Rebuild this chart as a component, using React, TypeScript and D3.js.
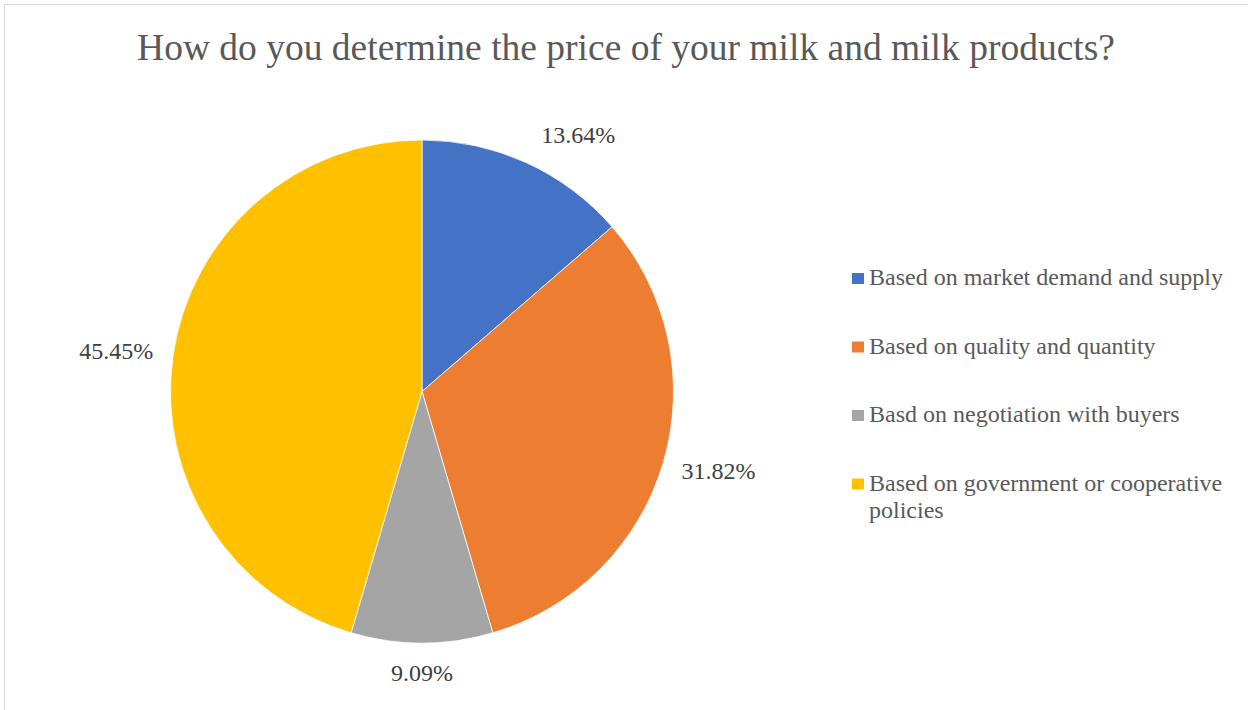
import React from "react";
import * as d3 from "d3";

const categories = [
  "Based on market demand and supply",
  "Based on quality and quantity",
  "Basd on negotiation with buyers",
  "Based on government or cooperative policies",
];
const values = [13.64, 31.82, 9.09, 45.45];
const labels = ["13.64%", "31.82%", "9.09%", "45.45%"];
const colors = ["#4472C4", "#ED7D31", "#A5A5A5", "#FFC000"];
const legendLines = [
  ["Based on market demand and supply"],
  ["Based on quality and quantity"],
  ["Basd on negotiation with buyers"],
  ["Based on government or cooperative", "policies"],
];
const title = "How do you determine the price of your milk and milk products?";

const W = 1248;
const H = 710;
const FONT = "'Liberation Serif', 'Times New Roman', serif";

export default function App() {
  const cx = 422;
  const cy = 391.5;
  const r = 251.5;
  const pie = d3.pie<number>().sort(null).value((d) => d)(values);
  const arc = d3.arc<d3.PieArcDatum<number>>().innerRadius(0).outerRadius(r);
  const labelW = [75, 75, 63, 75];
  const angleNudge = [0.08, 0, 0, 0];
  const radiusNudge = [12, 0, 0, 0];
  return (
    <svg
      width={W}
      height={H}
      style={{ position: "absolute", left: 0, top: 0, background: "#fff" }}
    >
      <rect x={4.5} y={4.5} width={W + 20} height={H + 20} fill="#fff" stroke="#d9d9d9" strokeWidth={1} />
      <text x={626} y={60} textAnchor="middle" fontFamily={FONT} fontSize={37.5} fill="#595959">
        {title}
      </text>
      <g transform={`translate(${cx},${cy})`}>
        {pie.map((p, i) => (
          <path key={i} d={arc(p) || ""} fill={colors[i]} stroke="#fff" strokeWidth={0.75} />
        ))}
        {pie.map((p, i) => {
          const a = (p.startAngle + p.endAngle) / 2 + angleNudge[i];
          const rr = r + 20 + radiusNudge[i];
          const x = rr * Math.sin(a) + Math.sin(a) * labelW[i] / 2;
          const y = -rr * Math.cos(a) - Math.cos(a) * 10;
          return (
            <text
              key={i}
              x={x}
              y={y}
              textAnchor="middle"
              dominantBaseline="central"
              fontFamily={FONT}
              fontSize={24}
              fill="#404040"
            >
              {labels[i]}
            </text>
          );
        })}
      </g>
      <g transform="translate(852,285)">
        {categories.map((c, i) => (
          <g key={c} transform={`translate(0,${i * 68.5})`}>
            <rect x={0} y={-12} width={12} height={11} fill={colors[i]} />
            <text x={17} y={0} fontFamily={FONT} fontSize={24} fill="#595959">
              {legendLines[i].map((ln, j) => (
                <tspan key={j} x={17} dy={j === 0 ? 0 : 27}>
                  {ln}
                </tspan>
              ))}
            </text>
          </g>
        ))}
      </g>
    </svg>
  );
}
